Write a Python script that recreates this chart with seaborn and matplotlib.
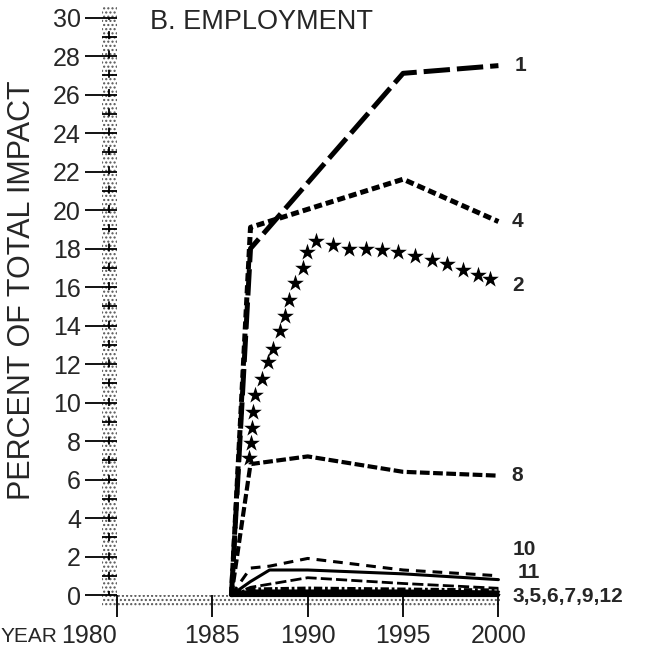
import numpy as np
import seaborn as sns
import matplotlib.pyplot as plt
from matplotlib.transforms import ScaledTranslation

sns.set_style("white")
plt.rcParams['font.family'] = ['Liberation Sans', 'DejaVu Sans']
plt.rcParams['lines.scale_dashes'] = False
plt.rcParams['hatch.linewidth'] = 1.0

# Employment impact by sector, percent of total
years_1 = [1986, 1987, 1995, 2000]
emp_1 = [0.0, 18.0, 27.1, 27.5]

years_4 = [1986, 1987, 1995, 2000]
emp_4 = [0.0, 19.1, 21.6, 19.4]

# sector 2 is drawn as a trail of stars, one entry per star
years_2 = [1986.9, 1987.0, 1987.1, 1987.15, 1987.25, 1987.6, 1987.9, 1988.2,
           1988.55, 1988.8, 1989.0, 1989.35, 1989.75, 1989.95, 1990.45, 1991.3,
           1992.15, 1993.05, 1993.9, 1994.75, 1995.6, 1996.5, 1997.3, 1998.15,
           1998.95, 1999.55]
emp_2 = [7.1, 7.9, 8.7, 9.5, 10.4, 11.2, 12.1, 12.8, 13.7, 14.5, 15.3, 16.2,
         17.0, 17.8, 18.4, 18.2, 18.0, 18.0, 17.9, 17.8, 17.6, 17.4, 17.2,
         16.9, 16.6, 16.4]

years_8 = [1986, 1987, 1990, 1995, 2000]
emp_8 = [0.0, 6.8, 7.2, 6.4, 6.2]

years_10 = [1986, 1987, 1988, 1990, 1995, 2000]
emp_10 = [0.0, 1.4, 1.5, 1.9, 1.3, 1.0]

years_11 = [1986, 1987, 1988, 1990, 1995, 2000]
emp_11 = [0.0, 0.7, 1.3, 1.3, 1.1, 0.8]

# small sectors 3,5,6,7,9,12
years_small = [1986, 1987, 1990, 1995, 2000]
emp_small = [
    [0.0, 0.4, 0.9, 0.6, 0.35],
    [0.0, 0.3, 0.35, 0.3, 0.25],
    [0.0, 0.2, 0.2, 0.2, 0.15],
    [0.0, 0.1, 0.15, 0.1, 0.1],
    [0.0, 0.05, 0.05, 0.05, 0.05],
    [0.0, 0.0, 0.0, 0.0, 0.0],
]

year_ticks = [1980, 1985, 1990, 1995, 2000]
ymin, ymax = -0.57, 30.2
xmin, xmax = 1980, 2001

fig = plt.figure(figsize=(6.48, 6.58), dpi=100)
ax = fig.add_axes([117 / 648, 1 - 606 / 658, 400.5 / 648, 592.35 / 658])
ax.set_xlim(xmin, xmax)
ax.set_ylim(ymin, ymax)


def yfrac(v):
    return (v - ymin) / (ymax - ymin)


def xfrac(v):
    return (v - xmin) / (xmax - xmin)


# stippled axis bands
band = dict(facecolor='white', edgecolor='#555555', hatch='....', lw=0,
            clip_on=False, zorder=0)
ax.axvspan(1979.2, 1980, ymin=0, ymax=yfrac(30.6), **band)
ax.axhspan(ymin, 0, xmin=xfrac(1979.2), xmax=xfrac(2000.1), **band)
ax.axvline(1979.6, ymin=yfrac(0), ymax=yfrac(30), color='black', lw=1.3,
           linestyle=(2.9, (5.8, 8.1)), clip_on=False, zorder=1)

# sector lines
sns.lineplot(x=years_1, y=emp_1, ax=ax, color='black', lw=3.6,
             linestyle=(0, (19, 5)), zorder=3)
sns.lineplot(x=years_4, y=emp_4, ax=ax, color='black', lw=3.6,
             linestyle=(0, (5.8, 2.9)), zorder=3)
sns.lineplot(x=years_8, y=emp_8, ax=ax, color='black', lw=3.0,
             linestyle=(0, (7, 2.5)), zorder=3)
sns.lineplot(x=years_10, y=emp_10, ax=ax, color='black', lw=2.2,
             linestyle=(0, (7, 5)), zorder=3)
sns.lineplot(x=years_11, y=emp_11, ax=ax, color='black', lw=2.2, zorder=3)
small_styles = [(0, (8, 3)), (0, (6, 2, 2, 2)), '-', (0, (3, 1.5)), '-', '-']
small_widths = [2.0, 2.5, 2.5, 3.0, 3.0, 3.0]
for vals, ls, w in zip(emp_small, small_styles, small_widths):
    sns.lineplot(x=years_small, y=vals, ax=ax, color='black', lw=w,
                 linestyle=ls, zorder=3)
sns.scatterplot(x=years_2, y=emp_2, ax=ax, color='black', marker='*', s=160,
                linewidth=0, zorder=4)

# curve labels
lab = dict(fontsize=15, fontweight='bold', va='center', ha='left')
ax.text(2000.85, emp_1[-1], '1', **lab)
ax.text(2000.7, emp_4[-1], '4', **lab)
ax.text(2000.7, emp_2[-1] - 0.3, '2', **lab)
ax.text(2000.7, emp_8[-1], '8', **lab)
lead = dict(arrowstyle='-', lw=1.5, linestyle=(0, (3, 2)), shrinkA=1, shrinkB=0)
ax.annotate('10', xy=(2000.1, emp_10[-1]), xytext=(2000.75, 2.35),
            arrowprops=lead, annotation_clip=False, **lab)
ax.annotate('11', xy=(2000.1, emp_11[-1]), xytext=(2001.0, 1.15),
            arrowprops=lead, annotation_clip=False, **lab)
ax.annotate('3,5,6,7,9,12', xy=(2000.1, 0.1), xytext=(2000.75, -0.1),
            arrowprops=lead, annotation_clip=False, **lab)

# axes
for s in ax.spines.values():
    s.set_visible(False)
ax.set_yticks(np.arange(0, 31, 2))
ax.set_yticks(np.arange(1, 30, 2), minor=True)
ax.set_xticks(year_ticks)
ax.tick_params(axis='y', which='major', left=True, direction='out', length=23,
               width=1.3, pad=3, labelsize=18, color='black')
ax.tick_params(axis='y', which='minor', left=True, direction='out', length=11,
               width=1.3, color='black')
ax.tick_params(axis='x', which='major', bottom=True, direction='inout',
               length=16.5, width=1.3, pad=5, labelsize=18, color='black')
# the 1980 label sits left of its tick, next to "YEAR"
first = ax.get_xticklabels()[0]
first.set_transform(first.get_transform() +
                    ScaledTranslation(-0.28, 0, fig.dpi_scale_trans))
ax.set_xlabel('')
ax.set_ylabel('PERCENT OF TOTAL IMPACT', fontsize=22)
ax.yaxis.set_label_coords(-0.2, 0.533)
fig.text(1 / 648, 1 - 636 / 658, 'YEAR', fontsize=15, ha='left', va='center')
ax.text(0.0824, 0.986, 'B. EMPLOYMENT', transform=ax.transAxes, fontsize=19.5,
        ha='left', va='center')

fig.savefig('out.png', dpi=100)
